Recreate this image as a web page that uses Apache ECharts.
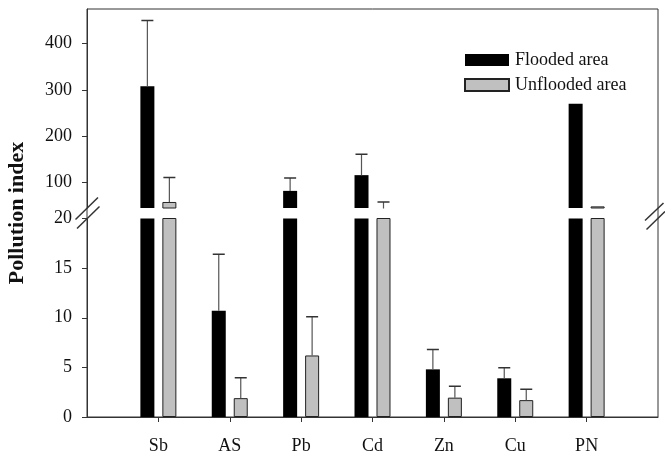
<!DOCTYPE html>
<html><head><meta charset="utf-8">
<script src="https://cdn.jsdelivr.net/npm/echarts@6/dist/echarts.min.js"></script>
<style>html,body{margin:0;padding:0;background:#fff}#c{width:665px;height:457px}</style>
</head><body><div id="c"></div>
<script>
const categories = ['Sb', 'AS', 'Pb', 'Cd', 'Zn', 'Cu', 'PN'];
const flooded = [308, 10.7, 82, 116, 4.8, 3.9, 270];
const floodedSD = [142, 5.7, 28, 45, 2.0, 1.05, 0];
const unflooded = [58, 1.9, 6.2, 40, 1.95, 1.7, 48.5];
const unfloodedSD = [53, 2.05, 3.9, 18, 1.15, 1.1, 0];
const upperTicks = [100, 200, 300, 400];
const lowerTicks = [0, 5, 10, 15, 20];
const seriesNames = ['Flooded area', 'Unflooded area'];

const axisCats = [''].concat(categories, ['']);
const pad = arr => [null].concat(arr, [null]);
const errData = (v, e) => v.map((val, i) => [i + 1, val, e[i]]);
const FONT = 'Liberation Serif';

function errRender(offset) {
  return function (params, api) {
    const x = api.value(0), y = api.value(1), e = api.value(2);
    if (!(e > 0)) return null;
    const b = api.coord([x, y]);
    const t = api.coord([x, y + e]);
    const cx = b[0] + offset;
    const cs = params.coordSys;
    return {
      type: 'group',
      clipPath: { type: 'rect', shape: { x: cs.x, y: cs.y - 0.5, width: cs.width, height: cs.height + 1 } },
      children: [
        { type: 'line', shape: { x1: cx, y1: b[1], x2: cx, y2: t[1] }, style: { stroke: '#555', lineWidth: 1.2 } },
        { type: 'line', shape: { x1: cx - 6, y1: t[1], x2: cx + 6, y2: t[1] }, style: { stroke: '#333', lineWidth: 1.5 } }
      ]
    };
  };
}

const chart = echarts.init(document.getElementById('c'), null, { renderer: 'canvas' });
const tickInt = (i) => i > 0 && i < axisCats.length - 1;

const barFl = { color: '#000' };
const barUn = { color: '#c0c0c0', borderColor: '#222', borderWidth: 1 };

chart.setOption({
  animation: false,
  backgroundColor: '#fff',
  textStyle: { fontFamily: FONT },
  legend: {
    orient: 'vertical', left: 459, top: 46,
    itemWidth: 44, itemHeight: 12, itemGap: 7, icon: 'rect',
    data: seriesNames,
    textStyle: { fontFamily: FONT, fontSize: 18, color: '#111', lineHeight: 18, padding: [0, 0, 0, 1] },
    selectedMode: false
  },
  grid: [
    { left: 87, right: 7, top: 9, bottom: 40, show: true, borderColor: '#333', borderWidth: 1, backgroundColor: 'transparent', outerBoundsMode: 'none', containLabel: false },
    { left: 87, right: 7, top: 9, bottom: 249, outerBoundsMode: 'none', containLabel: false },
    { left: 87, right: 7, top: 218.5, bottom: 40, outerBoundsMode: 'none', containLabel: false }
  ],
  xAxis: [
    { gridIndex: 0, type: 'category', data: axisCats, show: false },
    { gridIndex: 1, type: 'category', data: axisCats, boundaryGap: false, show: false },
    { gridIndex: 2, type: 'category', data: axisCats, boundaryGap: false,
      axisLine: { lineStyle: { color: '#333', width: 1 } },
      axisTick: { interval: tickInt, length: 5, lineStyle: { color: '#333' } },
      axisLabel: { interval: 0, margin: 20, fontFamily: FONT, fontSize: 18, color: '#111' },
      splitLine: { show: false } }
  ],
  yAxis: [
    { gridIndex: 0, type: 'value', min: 0, max: 1, name: 'Pollution index', nameLocation: 'middle', nameRotate: 90, nameGap: 59,
      nameTextStyle: { fontFamily: FONT, fontSize: 22, fontWeight: 'bold', color: '#111' },
      axisLine: { show: false }, axisTick: { show: false }, axisLabel: { show: false }, splitLine: { show: false } },
    { gridIndex: 1, type: 'value', min: 45, max: 475,
      axisLine: { show: true, lineStyle: { color: '#333' } },
      axisTick: { show: true, length: 5, customValues: upperTicks, lineStyle: { color: '#333' } },
      axisLabel: { customValues: upperTicks, margin: 15, fontFamily: FONT, fontSize: 18, color: '#111' },
      splitLine: { show: false } },
    { gridIndex: 2, type: 'value', min: 0, max: 20,
      axisLine: { show: true, lineStyle: { color: '#333' } },
      axisTick: { show: true, length: 5, customValues: lowerTicks, lineStyle: { color: '#333' } },
      axisLabel: { customValues: lowerTicks, margin: 15, fontFamily: FONT, fontSize: 18, color: '#111' },
      splitLine: { show: false } }
  ],
  graphic: [
    { type: 'line', shape: { x1: 75.5, y1: 219.5, x2: 98, y2: 197.5 }, style: { stroke: '#333', lineWidth: 1.5 }, z: 100 },
    { type: 'line', shape: { x1: 77, y1: 228.5, x2: 99.5, y2: 206.5 }, style: { stroke: '#333', lineWidth: 1.5 }, z: 100 },
    { type: 'line', shape: { x1: 645, y1: 220.5, x2: 663.5, y2: 203 }, style: { stroke: '#333', lineWidth: 1.5 }, z: 100 },
    { type: 'line', shape: { x1: 646.5, y1: 229.5, x2: 665, y2: 211.5 }, style: { stroke: '#333', lineWidth: 1.5 }, z: 100 }
  ],
  series: [
    { name: seriesNames[0], type: 'bar', xAxisIndex: 1, yAxisIndex: 1, data: pad(flooded), barWidth: 14, barGap: '57%', itemStyle: barFl, clip: true },
    { name: seriesNames[1], type: 'bar', xAxisIndex: 1, yAxisIndex: 1, data: pad(unflooded), barWidth: 14, barGap: '57%', itemStyle: barUn, clip: true },
    { name: seriesNames[0], type: 'bar', xAxisIndex: 2, yAxisIndex: 2, data: pad(flooded), barWidth: 14, barGap: '57%', itemStyle: barFl, clip: true },
    { name: seriesNames[1], type: 'bar', xAxisIndex: 2, yAxisIndex: 2, data: pad(unflooded), barWidth: 14, barGap: '57%', itemStyle: barUn, clip: true },
    { type: 'custom', name: 'errFlU', xAxisIndex: 1, yAxisIndex: 1, data: errData(flooded, floodedSD), renderItem: errRender(-11), z: 3 },
    { type: 'custom', name: 'errUnU', xAxisIndex: 1, yAxisIndex: 1, data: errData(unflooded, unfloodedSD), renderItem: errRender(11), z: 3 },
    { type: 'custom', name: 'errFlL', xAxisIndex: 2, yAxisIndex: 2, data: errData(flooded, floodedSD), renderItem: errRender(-11), z: 3 },
    { type: 'custom', name: 'errUnL', xAxisIndex: 2, yAxisIndex: 2, data: errData(unflooded, unfloodedSD), renderItem: errRender(11), z: 3 }
  ]
});
</script>
</body></html>
